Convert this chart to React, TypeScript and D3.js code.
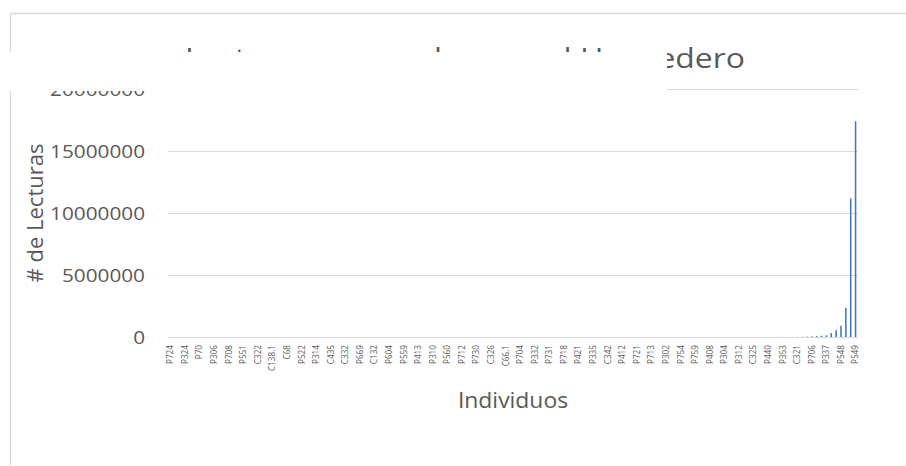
import React from "react";
import * as d3 from "d3";

const title = "Lecturas mapeadas con el Hospedero";
const xTitle = "Individuos";
const yTitle = "# de Lecturas";

// labels shown on the axis (every 3rd individual)
const shownLabels = [
  "P724", "P324", "P70", "P306", "P708", "P551", "C322", "C138.1", "C68", "P522",
  "P314", "C435", "C332", "P669", "C132", "P604", "P559", "P413", "P310", "P560",
  "P712", "P730", "C326", "C66.1", "P704", "P332", "P731", "P718", "P421", "P335",
  "C342", "P412", "P721", "P713", "P302", "P754", "P759", "P408", "P304", "P312",
  "C325", "P440", "P353", "C321", "P706", "P337", "P548", "P549",
];

// read counts per individual (sorted ascending), 142 individuals
const values = [
  3, 5, 7, 9, 11, 14, 16, 19, 22, 25,
  28, 31, 34, 38, 41, 45, 49, 53, 57, 61,
  66, 70, 75, 80, 85, 90, 96, 102, 108, 114,
  120, 127, 134, 141, 148, 156, 164, 172, 180, 189,
  198, 207, 217, 227, 237, 248, 259, 270, 282, 294,
  306, 319, 332, 346, 360, 374, 389, 404, 420, 436,
  453, 470, 488, 506, 525, 544, 564, 584, 605, 627,
  649, 672, 695, 719, 744, 769, 795, 822, 850, 878,
  907, 937, 968, 1000, 1032, 1066, 1100, 1135, 1172, 1209,
  1247, 1287, 1328, 1370, 1413, 1458, 1504, 1551, 1600, 1650,
  1702, 1756, 1811, 1868, 1927, 1988, 2051, 2116, 2183, 2252,
  2324, 2398, 2475, 2555, 2637, 2722, 2811, 2903, 2998, 3097,
  3200, 3400, 3700, 4100, 4600, 5300, 6200, 7500, 9300, 12000,
  18000, 30000, 45000, 70000, 100000, 140000, 320000, 540000, 910000, 2340000,
  11180000, 17400000,
];

const yTicks = [0, 5000000, 10000000, 15000000, 20000000];

const W = 906;
const H = 466;
const plotL = 168;
const plotR = 858;
const plotT = 89;
const plotB = 337;
const textColor = "#595959";
const gridColor = "#d9d9d9";
const barColor = "#4472C4";
const font = "'Open Sans', sans-serif";
const stretch = 1.11;

export default function App() {
  const x = d3
    .scaleBand<number>()
    .domain(d3.range(values.length))
    .range([plotL, plotR])
    .padding(0);
  const y = d3.scaleLinear().domain([0, 20000000]).range([plotB, plotT]);
  const step = x.step();
  const bw = step / 3.19;

  return (
    <svg
      width={W}
      height={H}
      style={{ position: "absolute", left: 0, top: 0, background: "#fff" }}
      fontFamily={font}
    >
      {/* chart border */}
      <line x1={10.5} x2={W} y1={13.5} y2={13.5} stroke={gridColor} strokeWidth={1.3} />
      <line x1={10.5} x2={10.5} y1={13.5} y2={465} stroke={gridColor} strokeWidth={1.3} />

      {/* title */}
      <text
        x={465}
        y={68}
        textAnchor="middle"
        fontSize={28}
        fill={textColor}
        textLength={560}
        lengthAdjust="spacingAndGlyphs"
      >
        {title}
      </text>

      {/* gridlines */}
      {yTicks.map((t) => (
        <line
          key={t}
          x1={plotL}
          x2={plotR}
          y1={Math.round(y(t)) + 0.5}
          y2={Math.round(y(t)) + 0.5}
          stroke={gridColor}
          strokeWidth={1.2}
        />
      ))}

      {/* y tick labels */}
      {yTicks.map((t) => (
        <text
          key={"l" + t}
          transform={`translate(145,${y(t)}) scale(${stretch},1)`}
          dy="0.36em"
          textAnchor="end"
          fontSize={18.7}
          fill={textColor}
        >
          {t}
        </text>
      ))}

      {/* bars */}
      {values.map((v, i) => (
        <rect
          key={i}
          x={(x(i) as number) + step / 2 - bw / 2}
          width={bw}
          y={y(v)}
          height={plotB - y(v)}
          fill={barColor}
        />
      ))}

      {/* x tick labels */}
      {shownLabels.map((lab, k) => {
        const i = k * 3;
        const cx = (x(i) as number) + step / 2;
        return (
          <text
            key={lab + k}
            transform={`translate(${cx},345) rotate(-90)`}
            textAnchor="end"
            dy="0.35em"
            fontSize={8.2}
            fill={textColor}
          >
            {lab}
          </text>
        );
      })}

      {/* axis titles */}
      <text
        transform={`translate(513,408) scale(1.05,1)`}
        textAnchor="middle"
        fontSize={21.8}
        fill={textColor}
      >
        {xTitle}
      </text>
      <text
        transform={`translate(35,213) rotate(-90)`}
        textAnchor="middle"
        dy="0.35em"
        fontSize={22}
        fill={textColor}
      >
        {yTitle}
      </text>

      {/* white mask over top-left region */}
      <rect x={0} y={52} width={667} height={39} fill="#fff" />
    </svg>
  );
}
